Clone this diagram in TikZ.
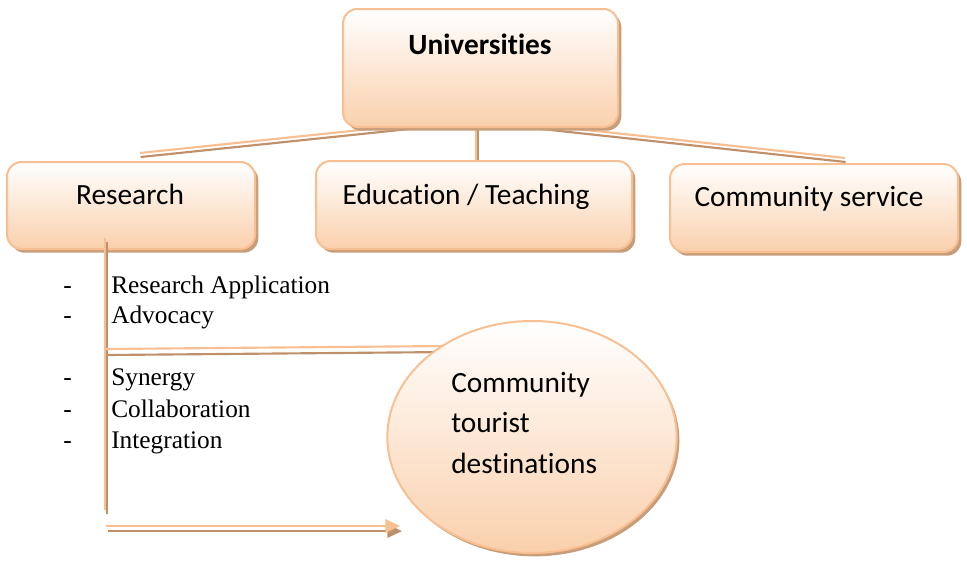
\documentclass[tikz,border=0pt]{standalone}
\usepackage{fontspec}
\setmainfont{Liberation Serif}
\newfontfamily\calfont[Ligatures=NoCommon]{Carlito}
\usetikzlibrary{shadows,fit,shapes.geometric,arrows.meta}
\definecolor{bord}{RGB}{248,192,146}
\definecolor{peach}{RGB}{250,208,172}
\definecolor{shad}{RGB}{200,158,122}
\definecolor{lite}{RGB}{248,192,146}
\definecolor{darkc}{RGB}{192,144,106}
\begin{document}
\begin{tikzpicture}[x=0.75pt,y=-0.75pt,
  pbox/.style={draw=bord, line width=1.5pt, rounded corners=11pt, top color=white, bottom color=peach, inner sep=0pt,
    drop shadow={shadow xshift=2.5pt, shadow yshift=-2.8pt, fill=shad, opacity=1}},
  pell/.style={ellipse, draw=bord, line width=1.5pt, top color=white, bottom color=peach, inner sep=0pt,
    drop shadow={shadow xshift=2pt, shadow yshift=-2.5pt, fill=shad, opacity=1}},
  boxtext/.style={font=\calfont\fontsize{22}{26}\selectfont, anchor=base, inner sep=0pt},
  elltext/.style={font=\calfont\fontsize{22}{30}\selectfont, anchor=base west, inner sep=0pt},
  listtext/.style={font=\fontsize{19}{22}\selectfont, anchor=base west, inner sep=0pt},
  liteln/.style={draw=lite, line width=1.6pt},
  darkln/.style={draw=darkc, line width=1.6pt},
]
\useasboundingbox (0,0) rectangle (967,561);
\fill[white] (0,0) rectangle (967,561);

% connectors from Universities
\coordinate (apex) at (476,118);
\coordinate (lend) at (140,153);
\coordinate (rend) at (845,158);
\coordinate (vend) at (476,176);
\draw[darkln, transform canvas={xshift=0.5pt, yshift=-3pt}] (lend) -- (apex) -- (rend);
\draw[darkln, transform canvas={xshift=1.5pt}] (apex) -- (vend);
\draw[liteln] (lend) -- (apex) -- (rend);
\draw[liteln] (apex) -- (vend);

% boxes
\node[pbox, fit={(343,9)(618,127)}] (uni) {};
\node[pbox, fit={(7,162)(255,249)}] (res) {};
\node[pbox, fit={(316,161)(632,249)}] (edu) {};
\node[pbox, fit={(670,164)(958,252)}] (com) {};

\node[boxtext, font=\calfont\bfseries\fontsize{22}{26}\selectfont] (unit) at (480,54) {Universities};
\node[boxtext] (rest) at (130,204) {Research};
\node[boxtext] (edut) at (466,204) {Education / Teaching};
\node[boxtext] (comt) at (809,206) {Community service};

% research lines
\coordinate (vtop) at (105,238);
\coordinate (vbot) at (105,510);
\draw[darkln, transform canvas={xshift=1.8pt, yshift=-3pt}] (vtop) -- (vbot);
\draw[liteln] (vtop) -- (vbot);

\coordinate (hl) at (106,349);
\coordinate (hr) at (448,346);
\draw[darkln, transform canvas={xshift=1.5pt, yshift=-4.5pt}] (hl) -- (hr);
\draw[liteln] (hl) -- (hr);

% ellipse
\node[pell, minimum width=217pt, minimum height=174pt] (dest) at (532,437) {};
\node[elltext] (d1) at (451,392) {Community};
\node[elltext] (d2) at (451,432) {tourist};
\node[elltext] (d3) at (451,473) {destinations};

% arrow
\coordinate (al) at (106,526);
\coordinate (ar) at (400,526);
\draw[darkln, -{Triangle[length=11pt,width=10pt]}, transform canvas={xshift=1.5pt, yshift=-3.8pt}] (al) -- (ar);
\draw[liteln, -{Triangle[length=11pt,width=10pt]}] (al) -- (ar);

% list
\foreach \y/\t/\n in {293/Research Application/a, 323/Advocacy/b, 385/Synergy/c, 417/Collaboration/d, 448/Integration/e}{
  \node[listtext] (dash\n) at (63,\y) {-};
  \node[listtext] (item\n) at (111,\y) {\t};
}
\end{tikzpicture}
\end{document}
